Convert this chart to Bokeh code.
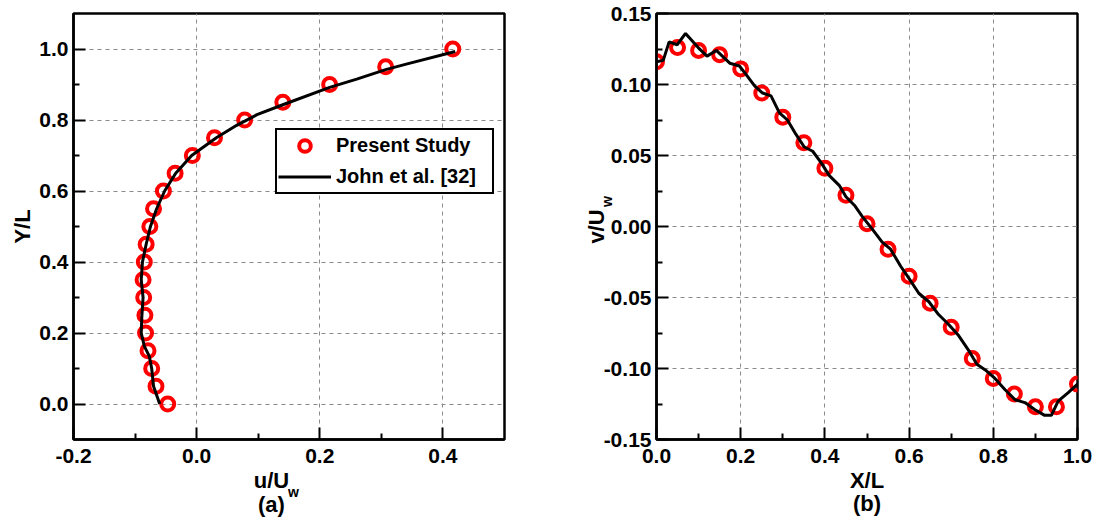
import math
from bokeh.plotting import figure
from bokeh.layouts import row
from bokeh.models import Range1d, FixedTicker, PrintfTickFormatter, Label
from bokeh.embed import file_html
from bokeh.resources import INLINE

# ---------------- data: panel (a) ----------------
a_circ_y = [0.0, 0.05, 0.10, 0.15, 0.20, 0.25, 0.30, 0.35, 0.40, 0.45, 0.50,
            0.55, 0.60, 0.65, 0.70, 0.75, 0.80, 0.85, 0.90, 0.95, 1.0]
a_circ_u = [-0.047, -0.066, -0.073, -0.079, -0.083, -0.084, -0.086, -0.087, -0.085, -0.082, -0.076,
            -0.070, -0.054, -0.035, -0.007, 0.029, 0.078, 0.140, 0.216, 0.307, 0.416]

a_line_y = [0.0, 0.05, 0.10, 0.135, 0.163, 0.20, 0.247, 0.30, 0.35, 0.40, 0.45, 0.50,
            0.55, 0.60, 0.65, 0.70, 0.75, 0.785, 0.815, 0.843, 0.892, 0.915, 0.942, 0.958, 0.993]
a_line_u = [-0.060, -0.070, -0.073, -0.077, -0.085, -0.090, -0.089, -0.087, -0.090, -0.088, -0.082, -0.075,
            -0.065, -0.052, -0.034, -0.008, 0.032, 0.065, 0.098, 0.140, 0.216, 0.260, 0.307, 0.342, 0.420]

# ---------------- data: panel (b) ----------------
b_circ_x = [0.0, 0.05, 0.10, 0.15, 0.20, 0.25, 0.30, 0.35, 0.40, 0.45, 0.50,
            0.55, 0.60, 0.65, 0.70, 0.75, 0.80, 0.85, 0.90, 0.95, 1.0]
b_circ_v = [0.116, 0.126, 0.124, 0.121, 0.111, 0.094, 0.077, 0.059, 0.041, 0.022, 0.002,
            -0.016, -0.035, -0.054, -0.071, -0.093, -0.107, -0.118, -0.127, -0.127, -0.111]

b_line_x = [0.0, 0.016, 0.030, 0.049, 0.069, 0.099, 0.120, 0.142, 0.174, 0.197, 0.213, 0.233,
            0.252, 0.272, 0.292, 0.311, 0.331, 0.351, 0.371, 0.391, 0.410, 0.434, 0.450, 0.470,
            0.489, 0.513, 0.536, 0.556, 0.580, 0.603, 0.623, 0.647, 0.670, 0.694, 0.718, 0.741,
            0.761, 0.781, 0.804, 0.828, 0.852, 0.875, 0.899, 0.922, 0.938, 0.954, 0.978, 1.0]
b_line_v = [0.116, 0.117, 0.130, 0.128, 0.136, 0.126, 0.120, 0.124, 0.115, 0.113, 0.107, 0.099,
            0.094, 0.092, 0.080, 0.075, 0.065, 0.056, 0.053, 0.045, 0.036, 0.029, 0.021, 0.015,
            0.007, -0.002, -0.011, -0.016, -0.028, -0.038, -0.047, -0.053, -0.062, -0.069, -0.077, -0.087,
            -0.097, -0.101, -0.107, -0.115, -0.122, -0.124, -0.129, -0.133, -0.133, -0.123, -0.117, -0.111]

a_xticks = [-0.2, 0.0, 0.2, 0.4]
a_xminor = [-0.1, 0.1, 0.3]
a_yticks = [0.0, 0.2, 0.4, 0.6, 0.8, 1.0]
a_yminor = [0.1, 0.3, 0.5, 0.7, 0.9]
b_xticks = [0.0, 0.2, 0.4, 0.6, 0.8, 1.0]
b_xminor = [0.1, 0.3, 0.5, 0.7, 0.9]
b_yticks = [-0.15, -0.10, -0.05, 0.0, 0.05, 0.10, 0.15]
b_yminor = [-0.125, -0.075, -0.025, 0.025, 0.075, 0.125]

FONT = "Liberation Sans"
RED = "#ff0000"


def style(p, xt, xm, yt, ym, xfmt, yfmt):
    p.outline_line_color = "black"
    p.outline_line_width = 2.5
    p.outline_line_alpha = 1.0
    p.xaxis.ticker = FixedTicker(ticks=xt, minor_ticks=xm)
    p.yaxis.ticker = FixedTicker(ticks=yt, minor_ticks=ym)
    p.xaxis.formatter = PrintfTickFormatter(format=xfmt)
    p.yaxis.formatter = PrintfTickFormatter(format=yfmt)
    for ax in (p.xaxis, p.yaxis):
        ax.axis_line_color = "black"
        ax.axis_line_width = 2.5
        ax.major_tick_in = 12
        ax.major_tick_out = 0
        ax.minor_tick_in = 6
        ax.minor_tick_out = 0
        ax.major_tick_line_width = 2
        ax.minor_tick_line_width = 2
        ax.major_tick_line_color = "black"
        ax.minor_tick_line_color = "black"
        ax.major_label_text_font = FONT
        ax.major_label_text_font_style = "bold"
        ax.major_label_text_font_size = "21px"
        ax.major_label_text_color = "black"
        ax.axis_label_text_font = FONT
        ax.axis_label_text_font_style = "bold"
        ax.axis_label_text_font_size = "22px"
        ax.axis_label_text_color = "black"
        ax.axis_label_text_line_height = 0.95
    p.xaxis.major_label_standoff = 9
    p.yaxis.major_label_standoff = 5
    for g in (p.xgrid, p.ygrid):
        g.grid_line_color = "#8a8a8a"
        g.grid_line_dash = "4 4"
        g.grid_line_width = 1
    p.background_fill_color = "white"
    p.border_fill_color = "white"


def side_label(p, text, cx, cy, size="22px", angle=0.0, place="right"):
    # text centred on the canvas pixel (cx, cy) of figure p
    p.add_layout(Label(x=cx, y=cy, x_units="canvas", y_units="canvas",
                       text=text, text_font=FONT, text_font_style="bold",
                       text_font_size=size, text_color="black", text_line_height=0.95,
                       text_align="center", text_baseline="middle", angle=angle), place)


# ---------------- panel (a) ----------------
p1 = figure(width=580, height=527, output_backend="svg", toolbar_location=None,
            x_range=Range1d(-0.2, 0.5), y_range=Range1d(-0.1, 1.1),
            min_border_left=73, min_border_right=76, min_border_top=13, min_border_bottom=87)
style(p1, a_xticks, a_xminor, a_yticks, a_yminor, "%.1f", "%.1f")
p1.scatter(a_circ_u, a_circ_y, marker="circle", size=13, fill_color=None,
           line_color=RED, line_width=4, legend_label="Present Study")
p1.line(a_line_u, a_line_y, line_color="black", line_width=3, legend_label="John et al. [32]")
lg = p1.legend[0]
lg.location = (202, 245)
lg.margin = 0
lg.padding = 1
lg.spacing = 2
lg.glyph_width = 53
lg.glyph_height = 29
lg.label_height = 29
lg.label_width = 155
lg.label_standoff = 5
lg.label_text_font = FONT
lg.label_text_font_style = "bold"
lg.label_text_font_size = "20px"
lg.label_text_color = "black"
lg.border_line_color = "black"
lg.border_line_width = 2.5
lg.border_line_alpha = 1.0
lg.background_fill_alpha = 1.0

p1.yaxis.axis_label = "Y/L"
p1.yaxis.axis_label_standoff = 1
side_label(p1, "u/U\n(a)", 271, 492)
side_label(p1, "w", 293, 491, size="14px")

# ---------------- panel (b) ----------------
p2 = figure(width=532, height=527, output_backend="svg", toolbar_location=None,
            x_range=Range1d(0.0, 1.0), y_range=Range1d(-0.15, 0.15),
            min_border_left=73, min_border_right=35, min_border_top=13, min_border_bottom=88)
style(p2, b_xticks, b_xminor, b_yticks, b_yminor, "%.1f", "%.2f")
p2.scatter(b_circ_x, b_circ_v, marker="circle", size=13, fill_color=None,
           line_color=RED, line_width=4)
p2.line(b_line_x, b_line_v, line_color="black", line_width=3)

p2.yaxis.axis_label = "v/U"
p2.yaxis.axis_label_standoff = -8
p2.xaxis.axis_label = "X/L\n(b)"
p2.xaxis.axis_label_standoff = 2
side_label(p2, "w", 26, 201, size="14px", angle=math.pi / 2)

layout = row(p1, p2)
open("out.html", "w").write(file_html(layout, INLINE))
